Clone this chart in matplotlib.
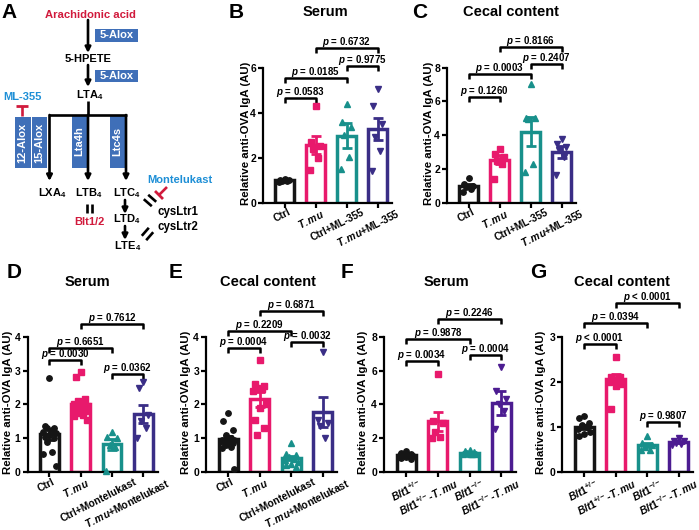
import matplotlib.pyplot as plt
from matplotlib.patches import Rectangle

plt.rcParams['font.family'] = ['Liberation Sans', 'DejaVu Sans']
plt.rcParams['font.weight'] = 'bold'
plt.rcParams['mathtext.fontset'] = 'custom'
plt.rcParams['mathtext.rm'] = 'Liberation Sans:bold'
plt.rcParams['mathtext.it'] = 'Liberation Sans:italic:bold'
plt.rcParams['mathtext.bf'] = 'Liberation Sans:bold'
plt.rcParams['axes.linewidth'] = 1.6

W, H = 699, 530

# colores
negro = '#151515'
rosa = '#e8196c'
verde = '#18908b'
azul_osc = '#3a2e86'
morado = '#4c1c91'
azul_caja = '#3f6fb8'
rojo = '#d11a3c'
celeste = '#1e8fd6'

# etiquetas de grupos (texto y numero de caracteres visibles)
etq_ml = ['Ctrl', r'$\mathit{T.mu}$', 'Ctrl+ML-355', r'$\mathit{T.mu}$+ML-355']
etq_mk = ['Ctrl', r'$\mathit{T.mu}$', 'Ctrl+Montelukast', r'$\mathit{T.mu}$+Montelukast']
etq_blt = [r'$\mathit{Blt1}^{+/-}$', r'$\mathit{Blt1}^{+/-}$-$\mathit{T.mu}$',
           r'$\mathit{Blt1}^{-/-}$', r'$\mathit{Blt1}^{-/-}$-$\mathit{T.mu}$']
largo_ml = [4, 5, 11, 13]
largo_mk = [4, 5, 15, 16]
largo_blt = [9, 12, 9, 11]

# B - suero (ML-355)
b_medias = [1.0, 2.55, 2.97, 3.27]
b_sem = [0.04, 0.4, 0.55, 0.5]
b_puntos = [[1.05, 1.02, 1.0, 0.98, 0.95, 0.92],
            [4.3, 2.7, 2.5, 2.4, 2.0, 1.45],
            [4.4, 3.6, 3.35, 3.0, 2.05, 1.5],
            [5.05, 4.3, 3.5, 2.9, 2.3, 1.4]]
b_p = [(0, 1, '0.0583', 4.66), (0, 2, '0.0185', 5.53),
       (2, 3, '0.9775', 6.07), (1, 3, '0.6732', 6.88)]

# C - contenido cecal (ML-355)
c_medias = [1.0, 2.55, 4.2, 3.0]
c_sem = [0.12, 0.25, 0.85, 0.35]
c_puntos = [[1.45, 1.1, 1.0, 0.95, 0.8, 0.65],
            [3.2, 2.9, 2.7, 2.5, 2.3, 1.4],
            [7.05, 5.0, 5.0, 4.95, 2.3, 1.8],
            [3.8, 3.45, 3.3, 3.15, 2.7, 1.65]]
c_p = [(0, 1, '0.1260', 6.27), (0, 2, '0.0003', 7.62),
       (2, 3, '0.2407', 8.24), (1, 3, '0.8166', 9.23)]

# D - suero (Montelukast)
d_medias = [1.12, 2.0, 0.82, 1.72]
d_sem = [0.16, 0.1, 0.15, 0.27]
d_puntos = [[2.78, 1.35, 1.3, 1.3, 1.25, 1.2, 1.15, 1.1, 1.05, 1.0, 0.9, 0.6, 0.55, 0.17],
            [2.95, 2.8, 2.15, 2.1, 2.05, 2.0, 1.95, 1.9, 1.85, 1.8, 1.75, 1.7, 1.65, 1.55],
            [1.2, 1.05, 1.0, 0.8, 0.75, 0.05],
            [2.65, 2.5, 1.7, 1.5, 1.3, 1.0]]
d_p = [(0, 1, '0.0030', 3.3), (0, 2, '0.6651', 3.66),
       (2, 3, '0.0362', 2.9), (1, 3, '0.7612', 4.38)]

# E - contenido cecal (Montelukast)
e_medias = [0.98, 2.15, 0.42, 1.78]
e_sem = [0.1, 0.22, 0.07, 0.45]
e_puntos = [[1.75, 1.5, 1.25, 1.1, 1.0, 0.95, 0.95, 0.9, 0.9, 0.85, 0.8, 0.75, 0.7, 0.1],
            [3.3, 2.6, 2.55, 2.5, 2.45, 2.4, 2.0, 1.9, 1.55, 1.3, 1.1],
            [0.85, 0.55, 0.5, 0.45, 0.4, 0.35, 0.3, 0.25, 0.2, 0.15],
            [3.55, 1.55, 1.45, 1.35, 1.0]]
e_p = [(0, 1, '0.0004', 3.66), (0, 2, '0.2209', 4.17),
       (2, 3, '0.0032', 3.85), (1, 3, '0.6871', 4.77)]

# F - suero (Blt1)
f_medias = [1.0, 3.0, 1.15, 4.1]
f_sem = [0.05, 0.55, 0.04, 0.7]
f_puntos = [[1.25, 1.15, 1.1, 1.05, 1.0, 1.0, 0.95, 0.9, 0.85, 0.8],
            [5.8, 3.0, 2.9, 2.4, 2.1, 2.0],
            [1.3, 1.25, 1.2, 1.15, 1.1, 1.1, 1.05, 1.05],
            [6.2, 4.8, 4.3, 4.0, 3.6, 2.55]]
f_p = [(0, 1, '0.0034', 6.58), (0, 2, '0.9878', 7.86),
       (2, 3, '0.0004', 6.92), (1, 3, '0.2246', 9.02)]

# G - contenido cecal (Blt1)
g_medias = [1.0, 2.07, 0.6, 0.67]
g_sem = [0.05, 0.1, 0.05, 0.03]
g_puntos = [[1.25, 1.2, 1.1, 1.05, 1.0, 0.95, 0.9, 0.85, 0.8],
            [2.55, 2.1, 2.1, 2.05, 2.05, 2.0, 1.95, 1.9, 1.4],
            [0.8, 0.65, 0.6, 0.55, 0.5, 0.5],
            [0.75, 0.7, 0.7, 0.65, 0.62, 0.6]]
g_p = [(0, 1, '< 0.0001', 2.84), (0, 2, '0.0394', 3.3),
       (2, 3, '0.9807', 1.12), (1, 3, '< 0.0001', 3.74)]

marcas = ['o', 's', '^', 'v']
desp = [0, -0.15, 0.15, -0.08, 0.08, -0.2, 0.2]


def ejes(izq, arriba, ancho, alto):
    return fig.add_axes([izq / W, 1 - (arriba + alto) / H, ancho / W, alto / H])


def panel(ax, etiquetas, largos, medias, sem, puntos, colores, ymax, paso, pvals):
    x = range(len(medias))
    for i in x:
        ax.bar(i, medias[i], width=0.6, facecolor='white', edgecolor=colores[i],
               linewidth=2.5, zorder=2)
        ys = puntos[i]
        xs = [i + desp[k % len(desp)] for k in range(len(ys))]
        ax.plot(xs, ys, linestyle='none', marker=marcas[i], color=colores[i],
                markersize=3.9, zorder=3, clip_on=False)
        ax.errorbar(i, medias[i], yerr=sem[i], color=colores[i], elinewidth=2.0,
                    capsize=3.5, capthick=2.0, zorder=4)
    ax.set_xlim(-0.7, 3.45)
    ax.set_ylim(0, ymax)
    ax.set_yticks([paso * k for k in range(int(round(ymax / paso)) + 1)])
    ax.set_xticks(list(x))
    ax.set_xticklabels([])
    for s in ['top', 'right']:
        ax.spines[s].set_visible(False)
    ax.tick_params(axis='both', length=3.5, width=1.6, labelsize=7.5, pad=1.5)
    # etiquetas giradas, desplazadas segun su largo
    for i in x:
        dx = (1.7 * largos[i] - 4) * 0.72
        ax.annotate(etiquetas[i], xy=(i, 0), xycoords=('data', 'axes fraction'),
                    xytext=(dx, -3.2), textcoords='offset points', rotation=27,
                    ha='right', va='top', rotation_mode='anchor', fontsize=7.4,
                    annotation_clip=False)
    caida = ymax * 5 / 135
    for i, j, txt, y in pvals:
        ax.plot([i, i, j, j], [y - caida, y, y, y - caida], color='k', lw=1.8,
                clip_on=False, solid_capstyle='butt')
        simb = '<' if txt.startswith('<') else '='
        num = txt.replace('<', '').strip()
        ax.text((i + j) / 2, y + ymax * 3 / 135, r'$p$ ' + simb + ' ' + num,
                ha='center', va='baseline', fontsize=7, fontweight='bold')


fig = plt.figure(figsize=(W / 100, H / 100), dpi=100)

# capa de fondo para el esquema y los textos
fondo = fig.add_axes([0, 0, 1, 1])
fondo.set_xlim(0, W)
fondo.set_ylim(H, 0)
fondo.axis('off')

col_ml = [negro, rosa, verde, azul_osc]
col_blt = [negro, rosa, verde, morado]

axb = ejes(263, 67.7, 128.7, 135)
panel(axb, etq_ml, largo_ml, b_medias, b_sem, b_puntos, col_ml, 6, 2, b_p)
axc = ejes(447, 67.7, 128.7, 135)
panel(axc, etq_ml, largo_ml, c_medias, c_sem, c_puntos, col_ml, 8, 2, c_p)
axd = ejes(27.5, 336.7, 130, 135.5)
panel(axd, etq_mk, largo_mk, d_medias, d_sem, d_puntos, col_ml, 4, 1, d_p)
axe = ejes(206, 336.7, 131, 135.5)
panel(axe, etq_mk, largo_mk, e_medias, e_sem, e_puntos, col_ml, 4, 1, e_p)
axf = ejes(384, 336.7, 131.5, 135.5)
panel(axf, etq_blt, largo_blt, f_medias, f_sem, f_puntos, col_blt, 8, 2, f_p)
axg = ejes(562, 336.7, 131, 135.5)
panel(axg, etq_blt, largo_blt, g_medias, g_sem, g_puntos, col_blt, 3, 1, g_p)

ylab = 'Relative anti-OVA IgA (AU)'
for xx, yy in [(246, 133), (429, 133), (8, 402), (186, 402), (363, 402), (541, 402)]:
    fondo.text(xx, yy, ylab, rotation=90, ha='center', va='center', fontsize=8.2)

# titulos y letras
for xx, yy, t in [(325, 12, 'Serum'), (511, 12, 'Cecal content'), (87, 282, 'Serum'),
                  (268, 282, 'Cecal content'), (446, 282, 'Serum'), (622, 282, 'Cecal content')]:
    fondo.text(xx, yy, t, ha='center', va='center', fontsize=10.5)
for xx, yy, t in [(9, 13, 'A'), (236, 13, 'B'), (420, 13, 'C'), (14, 273, 'D'),
                  (176, 273, 'E'), (347, 273, 'F'), (538, 273, 'G')]:
    fondo.text(xx, yy, t, ha='center', va='center', fontsize=15)


# esquema A
def flecha(x0, y0, x1, y1):
    fondo.annotate('', xy=(x1, y1), xytext=(x0, y0),
                   arrowprops=dict(arrowstyle='-|>', lw=1.9, color='k',
                                   mutation_scale=8, shrinkA=0, shrinkB=0))


def caja(x, y, w, h, t, rot=0):
    fondo.add_patch(Rectangle((x, y), w, h, facecolor=azul_caja, edgecolor='none'))
    fondo.text(x + w / 2, y + h / 2, t, color='white', ha='center', va='center',
               fontsize=8, rotation=rot)


def linea(x0, y0, x1, y1, c='k', lw=1.9):
    fondo.plot([x0, x1], [y0, y1], color=c, lw=lw, solid_capstyle='butt')


ta = 8
fondo.text(90, 15, 'Arachidonic acid', color=rojo, ha='center', va='center', fontsize=8.1)
flecha(88, 20, 88, 53)
caja(95, 29, 43, 13, '5-Alox')
fondo.text(88, 59, '5-HPETE', ha='center', va='center', fontsize=ta)
flecha(88, 65, 88, 87)
caja(95, 70, 43, 12, '5-Alox')
fondo.text(90, 95, r'LTA$_4$', ha='center', va='center', fontsize=ta)
linea(88, 101, 88, 115)
linea(48.7, 115, 126.8, 115)
for xx in [49.5, 88, 126]:
    flecha(xx, 115, xx, 181)
fondo.text(22, 97, 'ML-355', color=celeste, ha='center', va='center', fontsize=ta)
linea(21.7, 106, 21.7, 116, c=rojo)
linea(16, 106, 27.5, 106, c=rojo, lw=2)
caja(15, 117, 15.5, 51, '12-Alox', 90)
caja(32, 117, 15, 51, '15-Alox', 90)
caja(72, 115, 15, 53, 'Lta4h', 90)
caja(109.5, 115, 15, 53, 'Ltc4s', 90)
fondo.text(52, 193, r'LXA$_4$', ha='center', va='center', fontsize=ta)
fondo.text(89, 193, r'LTB$_4$', ha='center', va='center', fontsize=ta)
fondo.text(127, 193, r'LTC$_4$', ha='center', va='center', fontsize=ta)
linea(87, 204, 87, 213)
linea(91.5, 204, 91.5, 213)
fondo.text(89, 222, 'Blt1/2', color=rojo, ha='center', va='center', fontsize=ta)
flecha(125, 200, 125, 214)
fondo.text(127, 219, r'LTD$_4$', ha='center', va='center', fontsize=ta)
flecha(125, 226, 125, 240)
fondo.text(128, 246, r'LTE$_4$', ha='center', va='center', fontsize=ta)
# marcas de union
for o in [-2.2, 2.2]:
    linea(146 - o, 197 + o, 154 - o, 204 + o)
    linea(144 + o, 238 + o, 151 + o, 230 + o)
fondo.text(147, 180, 'Montelukast', color=celeste, ha='left', va='center', fontsize=ta)
linea(167, 187, 159, 195, c=rojo)
linea(155, 191, 163, 199, c=rojo, lw=2)
fondo.text(158, 212, 'cysLtr1', ha='left', va='center', fontsize=8.3)
fondo.text(158, 227, 'cysLtr2', ha='left', va='center', fontsize=8.3)

plt.savefig('out.png', dpi=100)
